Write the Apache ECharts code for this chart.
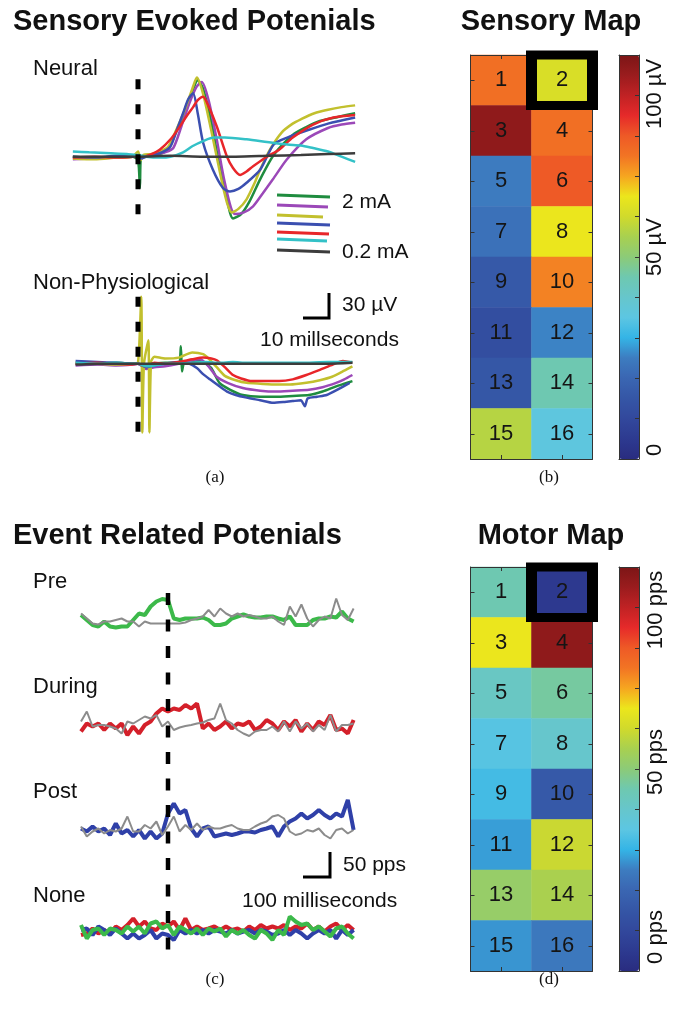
<!DOCTYPE html>
<html>
<head>
<meta charset="utf-8">
<title>Sensory and motor maps</title>
<script src="https://cdn.jsdelivr.net/npm/echarts@6/dist/echarts.min.js"></script>
<style>
  html, body { margin: 0; padding: 0; background: #fff; }
  #main { width: 678px; height: 1009px; }
</style>
</head>
<body>
<div id="main"></div>
<script>
// ---------- data ----------
// (a) evoked potentials, points are [ms after stimulus, µV]; order = 2 mA ... 0.2 mA
var neuralGreen  = [[-24,0],[-16,-1],[-8,0],[-2,0],[0,-4],[0.7,-36],[1.2,0],[4,0],[8,3],[11,8],[14,28],[17,50],[20,75],[22,88],[24,78],[27,40],[30,-10],[32.5,-45],[35,-71],[38,-66],[41,-52],[45,-26],[50,2],[57,25],[62,34],[67,41],[74,46],[80,50]];
var neuralPurple = [[-24,-3],[-16,-2],[-8,-1],[-2,0],[0,2],[1,-3],[3,1],[7,3],[10,5],[13,10],[16,35],[19,62],[21.5,80],[23.5,86],[26,65],[29,20],[32,-30],[35.7,-66],[39,-64],[42.4,-57],[46,-42],[49.7,-26],[54.9,-3],[62,20],[70,33],[75,37],[80,39]];
var neuralYellow = [[-24,-2],[-16,-3],[-8,-1],[-2,0],[0,6],[1,-4],[2,2],[5,3],[8,6],[11,11],[14,30],[17,52],[20,78],[21.7,91],[24,72],[27,30],[29,0],[31,-30],[33,-55],[34.6,-64],[37,-60],[40,-49],[43,-30],[45,-15],[48.6,8],[53,28],[57,38],[60,43],[65,50],[70,54],[75,57],[80,59]];
var neuralBlue   = [[-24,0],[-16,-1],[-8,1],[-2,0],[0,1],[1,-2],[4,1],[8,4],[11.8,11],[14,28],[16.6,50],[18.5,66],[20.3,73],[22,50],[24,16],[27.6,-15],[31.3,-36],[33.9,-40],[37,-37],[40,-30],[45,-15],[50,14],[55,22],[63,31],[70,38],[80,45]];
var neuralRed    = [[-24,-1],[-16,0],[-8,-1],[-2,0],[0,1],[2,0],[5,3],[8,8],[12,20],[15.5,35],[18,47],[20.3,57],[22,65],[24,69],[26,58],[29,35],[32.8,0],[35,-13],[37.6,-21],[40,-17],[42.4,-11],[47.5,0],[52,8],[57,22],[64.5,37],[72,45],[80,48]];
var neuralCyan   = [[-24,6],[-18,5],[-10,4],[-4,3],[0,2],[3,0],[8,-1],[12,0],[16.6,5],[20,12],[24,18],[28,22],[32,22],[40,20],[47.5,17],[55,14],[60,13],[64.5,10],[70,6],[75,0],[80,-6]];
var neuralGray   = [[-24,0],[-12,0],[0,0],[12,1],[24,0],[36,0],[48,1],[60,2],[70,3],[80,4]];

var nonPhysGreen  = [[-23,0],[-15,0],[-8,1],[-2,0],[0,0],[3,-2],[6,0],[10,1],[15,1],[15.8,20],[16.2,-9],[17,1],[20,3],[24,2],[27,-5],[30,-22],[34,-30],[38.6,-36],[45,-38],[51,-38],[57,-37],[63,-36],[68,-32],[73,-26],[76,-23],[79,-20]];
var nonPhysPurple = [[-23,-2],[-15,-1],[-8,-2],[-2,-1],[0,0],[3,-6],[6,-4],[10,-3],[15,0],[20,4],[23,5],[26,-3],[29,-15],[33,-22],[38.6,-28],[45,-31],[51,-32],[57,-31],[63,-30],[68,-27],[73,-22],[76,-18],[79,-13]];
var nonPhysYellow = [[-23,1],[-15,0],[-8,-1],[-2,0],[0,1],[1.2,77],[1.6,-79],[2.2,0],[3.8,27],[4.2,-79],[4.8,2],[6,8],[10,6],[15,7],[20,13],[24,11],[26,6],[29,-4],[32,-14],[36,-19],[40,-22],[45,-23],[51,-24],[56,-24],[62,-22],[67,-19],[71.5,-15],[76,-8],[79,-3]];
var nonPhysBlue   = [[-23,3],[-15,2],[-8,1],[-2,0],[0,0],[3,-4],[6,-2],[10,0],[15,2],[19,0],[21.7,-5],[24,-12],[26.5,-18],[30,-26],[32.8,-32],[36,-36],[40,-39],[45,-42],[49.8,-45],[54,-44],[57,-43],[60,-42],[61.5,-49],[62.5,-40],[66,-38],[69.5,-36],[74,-29],[78,-22]];
var nonPhysRed    = [[-23,0],[-15,1],[-8,0],[-2,-1],[0,0],[3,-3],[6,1],[10,0],[15,2],[20,5],[24,7],[27,6],[29,4],[32,-4],[35,-13],[38,-17],[42,-20],[47,-20],[52,-20],[57,-18],[62,-13],[67,-7],[71,-2],[75.5,3],[79,1]];
var nonPhysCyan   = [[-23,1],[-15,0],[-8,1],[-2,0],[0,0],[3,-3],[6,-2],[10,0],[15,0],[20,1],[25,2],[30,1],[35,2],[40,1],[50,1],[60,1],[70,2],[79,2]];
var nonPhysGray   = [[-23,-1],[-12,0],[0,0],[12,0],[24,0],[36,0],[48,0],[60,0],[70,0],[79,1]];

// (c) firing rate in 20 ms bins, pps
var erpTimes = [-300,-280,-260,-240,-220,-200,-180,-160,-140,-120,-100,-80,-60,-40,-20,0,20,40,60,80,100,120,140,160,180,200,220,240,260,280,300,320,340,360,380,400,420,440,460,480,500,520,540,560,580,600,620,640];
var preGreen   = [60,50,40,37,47,37,35,37,37,50,63,60,77,87,92,90,53,50,53,53,53,55,50,40,40,43,53,57,61,57,55,55,57,57,53,50,57,40,40,40,50,53,53,57,55,67,53,47];
var preGray    = [63,53,43,41,47,47,50,53,47,47,37,47,43,43,43,43,43,43,45,50,53,57,70,57,73,63,57,63,57,60,57,53,53,57,47,40,77,57,81,53,37,50,57,53,93,60,50,73];
var duringRed  = [37,53,47,53,40,53,43,53,30,47,33,50,57,73,83,77,83,80,90,83,93,43,53,40,47,57,43,53,50,57,40,47,60,53,40,57,47,60,37,53,40,57,50,70,40,43,33,60];
var duringGray = [57,77,47,50,50,47,43,33,57,53,60,67,63,70,47,57,40,45,48,50,53,55,60,63,93,60,53,40,33,28,37,40,40,47,37,57,37,57,43,53,37,50,40,70,37,50,50,53];
var postBlue   = [53,47,57,47,53,40,63,43,50,37,50,33,47,33,43,83,103,83,90,53,37,53,57,37,40,43,40,43,47,47,45,50,53,57,37,57,67,73,83,73,80,90,80,73,83,77,110,50];
var postGray   = [57,37,47,53,43,50,47,53,77,47,47,60,53,67,40,57,77,47,60,50,63,50,57,53,53,57,60,53,50,50,57,63,67,77,80,73,47,40,43,50,47,53,40,33,50,53,43,50];
var noneRed    = [10,13,23,13,20,13,27,20,30,43,27,37,23,20,33,27,37,20,43,20,27,20,23,27,20,27,20,23,17,27,20,30,23,27,23,30,20,27,23,33,20,27,17,27,33,20,30,20];
var noneBlue   = [20,23,10,27,20,10,23,13,3,13,3,10,20,3,13,10,0,20,13,20,13,20,13,20,17,13,20,13,17,20,13,20,17,10,13,20,10,20,13,3,13,20,13,20,3,20,10,20];
var noneGreen  = [30,3,20,23,10,23,20,13,27,17,27,13,33,37,23,30,10,27,20,13,23,10,23,17,23,7,20,13,20,10,3,20,13,0,20,10,47,37,30,33,20,27,17,7,23,27,13,3];

// (b) and (d) electrode maps, channels 1..16 laid out two per row
var channels      = [1,2,3,4,5,6,7,8,9,10,11,12,13,14,15,16];
var sensoryValues = [95,77,121,95,31,100,28,81,20,92,15,32,19,56,71,45];   // µV
var motorValues   = [56,6,81,121,52,58,43,50,40,20,35,74,65,69,34,30];     // pps
var highlightChannel = 2;
var colorbarMax = 125;

// colour scale of both colour bars (low -> high)
var jet = ['#292c80','#2d3a90','#32489c','#3556a6','#3a66b2','#3d7cc0','#34b4e6','#5cc6e2','#66c6cc','#6ec8b0',
           '#8ccb78','#a8d050','#d0da2c','#ece61c','#f6a620','#f27424','#ee5a26','#e62a2a','#c02224','#9a1c1e','#7c1616'];

// ---------- chart ----------
var chart = echarts.init(document.getElementById('main'));
var SANS = 'Liberation Sans, Arial, Helvetica, sans-serif';
var SERIF = 'Liberation Serif, Times New Roman, serif';

var grids = [], xAxes = [], yAxes = [], series = [];

function hiddenAxis(min, max) {
  return { type: 'value', min: min, max: max, show: false };
}
function addGrid(rect, xa, ya) {
  grids.push(Object.assign({ containLabel: false }, rect));
  var g = grids.length - 1;
  xa.gridIndex = g; ya.gridIndex = g;
  xAxes.push(xa); yAxes.push(ya);
  return { x: xAxes.length - 1, y: yAxes.length - 1, g: g };
}
function trace(ax, data, color, width, smooth) {
  series.push({
    type: 'line', xAxisIndex: ax.x, yAxisIndex: ax.y, data: data,
    symbol: 'none', smooth: smooth, silent: true,
    lineStyle: { color: color, width: width }
  });
}
function dashedMarker(ax, top, bottom, dash, width) {
  series.push({
    type: 'line', xAxisIndex: ax.x, yAxisIndex: ax.y, data: [[0, top], [0, bottom]],
    symbol: 'none', silent: true, z: 5,
    lineStyle: { color: '#000', width: width, type: dash, cap: 'butt' }
  });
}

// (a) two panels: 1 ms = 2.714 px, 1 µV = 0.87 px, stimulus at x = 138
var neuralAx = addGrid({ left: 70.15, width: 290.4, top: 61, height: 174 }, hiddenAxis(-25, 82), hiddenAxis(-90, 110));
var nonPhysAx = addGrid({ left: 70.15, width: 290.4, top: 268, height: 174 }, hiddenAxis(-25, 82), hiddenAxis(-90, 110));

var aColors = ['#1f8c3f', '#9b48b8', '#c2c02e', '#3b4fb0', '#e8262a', '#33c1c7', '#3c3c3c'];
[neuralGreen, neuralPurple, neuralYellow, neuralBlue, neuralRed, neuralCyan, neuralGray].forEach(function (d, i) {
  trace(neuralAx, d, aColors[i], 2.5, 0.25);
});
[nonPhysGreen, nonPhysPurple, nonPhysYellow, nonPhysBlue, nonPhysRed, nonPhysCyan, nonPhysGray].forEach(function (d, i) {
  trace(nonPhysAx, d, aColors[i], 2.5, 0.2);
});
dashedMarker(neuralAx, 89, -67, [10, 15], 5);
dashedMarker(nonPhysAx, 77, -80, [10, 15], 5);

// (c) four panels: 1 ms = 0.29 px, 1 pps = 0.5 px, stimulus at x = 168
function erpGrid(top) {
  return addGrid({ left: 69.4, width: 290, top: top, height: 60 }, hiddenAxis(-340, 660), hiddenAxis(0, 120));
}
function pairs(vals) { return erpTimes.map(function (t, i) { return [t, vals[i]]; }); }
var preAx = erpGrid(585), duringAx = erpGrid(690), postAx = erpGrid(795), noneAx = erpGrid(880);
trace(preAx, pairs(preGreen), '#3cb94a', 4, false);
trace(preAx, pairs(preGray), '#8c8c8c', 2, false);
trace(duringAx, pairs(duringRed), '#d4202a', 4, false);
trace(duringAx, pairs(duringGray), '#8c8c8c', 2, false);
trace(postAx, pairs(postBlue), '#2f40a8', 4, false);
trace(postAx, pairs(postGray), '#8c8c8c', 2, false);
trace(noneAx, pairs(noneRed), '#d4202a', 4, false);
trace(noneAx, pairs(noneBlue), '#2f40a8', 4, false);
trace(noneAx, pairs(noneGreen), '#3cb94a', 4, false);
var erpDashAx = addGrid({ left: 69.4, width: 290, top: 593, height: 357 }, hiddenAxis(-340, 660), hiddenAxis(0, 1));
dashedMarker(erpDashAx, 1, 0, [12, 14.5], 4.5);

// (b)/(d) heat maps with colour bars
var frame = { show: true, onZero: false, lineStyle: { color: '#333', width: 1 } };
function catAxis(data, pos, inverse) {
  return {
    type: 'category', data: data, position: pos, inverse: !!inverse, z: 6,
    axisLine: frame,
    axisTick: { show: true, inside: true, length: 4, alignWithLabel: true, lineStyle: { color: '#333' } },
    axisLabel: { show: false }, splitLine: { show: false }, splitArea: { show: false }
  };
}
function electrodeMap(top, values) {
  var cols = ['L', 'R'], rows = ['r1', 'r2', 'r3', 'r4', 'r5', 'r6', 'r7', 'r8'];
  var ax = addGrid({ left: 470.5, width: 122, top: top, height: 404 }, catAxis(cols, 'bottom'), catAxis(rows, 'left', true));
  var top2 = catAxis(cols, 'top'); top2.gridIndex = ax.g; xAxes.push(top2);
  var right2 = catAxis(rows, 'right', true); right2.gridIndex = ax.g; yAxes.push(right2);

  var cells = values.map(function (v, i) { return [i % 2, Math.floor(i / 2), v]; });
  series.push({
    type: 'heatmap', xAxisIndex: ax.x, yAxisIndex: ax.y, data: cells, silent: true,
    label: {
      show: true, fontSize: 22, fontFamily: SANS, color: '#151515',
      formatter: function (p) { return String(channels[p.dataIndex]); }
    },
    itemStyle: { borderWidth: 0 },
    emphasis: { disabled: true }
  });
  var heatIndex = series.length - 1;
  var h = highlightChannel - 1;
  series.push({
    type: 'scatter', xAxisIndex: ax.x, yAxisIndex: ax.y, data: [[h % 2, Math.floor(h / 2)]],
    symbol: 'rect', symbolSize: [61, 50.5], clip: false, silent: true, z: 10,
    itemStyle: { color: 'rgba(0,0,0,0)', borderColor: '#000', borderWidth: 10, opacity: 1 }
  });

  // colour bar frame and ticks
  var cb = addGrid({ left: 619, width: 20, top: top, height: 404 },
    { type: 'value', min: 0, max: 1, position: 'bottom', z: 6, axisLine: frame, axisTick: { show: false }, axisLabel: { show: false }, splitLine: { show: false } },
    { type: 'value', min: 0, max: colorbarMax, interval: colorbarMax / 10, position: 'right', z: 6, axisLine: frame,
      axisTick: { show: true, inside: true, length: 4, lineStyle: { color: '#333' } }, axisLabel: { show: false }, splitLine: { show: false } });
  xAxes.push({ gridIndex: cb.g, type: 'value', min: 0, max: 1, position: 'top', z: 6, axisLine: frame, axisTick: { show: false }, axisLabel: { show: false }, splitLine: { show: false } });
  yAxes.push({ gridIndex: cb.g, type: 'value', min: 0, max: colorbarMax, position: 'left', z: 6, axisLine: frame, axisTick: { show: false }, axisLabel: { show: false }, splitLine: { show: false } });

  return {
    type: 'continuous', seriesIndex: heatIndex, min: 0, max: colorbarMax, calculable: false,
    hoverLink: false, orient: 'vertical', left: 619, top: top, itemWidth: 20, itemHeight: 404,
    padding: 0, inRange: { color: jet }
  };
}
var visualMaps = [electrodeMap(55, sensoryValues), electrodeMap(567, motorValues)];

// ---------- texts, legend strokes, scale bars ----------
function text(x, y, s, size, opts) {
  opts = opts || {};
  return {
    type: 'text', x: x, y: y, rotation: opts.rotation || 0, silent: true, z: 20,
    style: {
      text: s, fontSize: size, fontFamily: opts.family || SANS, fontWeight: opts.weight || 'normal',
      fill: '#111', textAlign: opts.align || 'left', textVerticalAlign: 'middle'
    }
  };
}
function stroke(x1, y1, x2, y2, color) {
  return { type: 'line', silent: true, shape: { x1: x1, y1: y1, x2: x2, y2: y2 }, style: { stroke: color, lineWidth: 3 } };
}
function bar(points) {
  return { type: 'polyline', silent: true, shape: { points: points }, style: { stroke: '#000', lineWidth: 3, fill: null } };
}

var graphics = [
  text(13, 22, 'Sensory Evoked Potenials', 29, { weight: 'bold' }),
  text(551, 22, 'Sensory Map', 29, { weight: 'bold', align: 'center' }),
  text(13, 536, 'Event Related Potenials', 29, { weight: 'bold' }),
  text(551, 536, 'Motor Map', 29, { weight: 'bold', align: 'center' }),

  text(33, 69, 'Neural', 22),
  text(33, 283, 'Non-Physiological', 22),
  text(342, 202, '2 mA', 21),
  text(342, 252, '0.2 mA', 21),
  text(342, 305, '30 µV', 21),
  text(260, 340, '10 millseconds', 21),

  text(33, 582, 'Pre', 22),
  text(33, 687, 'During', 22),
  text(33, 792, 'Post', 22),
  text(33, 896, 'None', 22),
  text(343, 865, '50 pps', 21),
  text(242, 901, '100 milliseconds', 21),

  text(655, 94, '100 µV', 22, { rotation: Math.PI / 2, align: 'center' }),
  text(655, 247, '50 µV', 22, { rotation: Math.PI / 2, align: 'center' }),
  text(655, 450, '0', 22, { rotation: Math.PI / 2, align: 'center' }),
  text(656, 610, '100 pps', 22, { rotation: Math.PI / 2, align: 'center' }),
  text(656, 762, '50 pps', 22, { rotation: Math.PI / 2, align: 'center' }),
  text(656, 937, '0 pps', 22, { rotation: Math.PI / 2, align: 'center' }),

  text(215, 478, '(a)', 17, { family: SERIF, align: 'center' }),
  text(549, 478, '(b)', 17, { family: SERIF, align: 'center' }),
  text(215, 980, '(c)', 17, { family: SERIF, align: 'center' }),
  text(549, 980, '(d)', 17, { family: SERIF, align: 'center' }),

  bar([[329, 293], [329, 318], [303, 318]]),
  bar([[330, 852], [330, 877], [303, 877]])
];
var legendY = [196, 206, 216, 224, 233, 240, 251];
var legendEnd = [330, 328, 323, 330, 329, 327, 330];
aColors.forEach(function (c, i) {
  graphics.push(stroke(277, legendY[i] - 1, legendEnd[i], legendY[i] + 1, c));
});

chart.setOption({
  animation: false,
  backgroundColor: '#fff',
  grid: grids,
  xAxis: xAxes,
  yAxis: yAxes,
  visualMap: visualMaps,
  series: series,
  graphic: graphics
});
</script>
</body>
</html>
